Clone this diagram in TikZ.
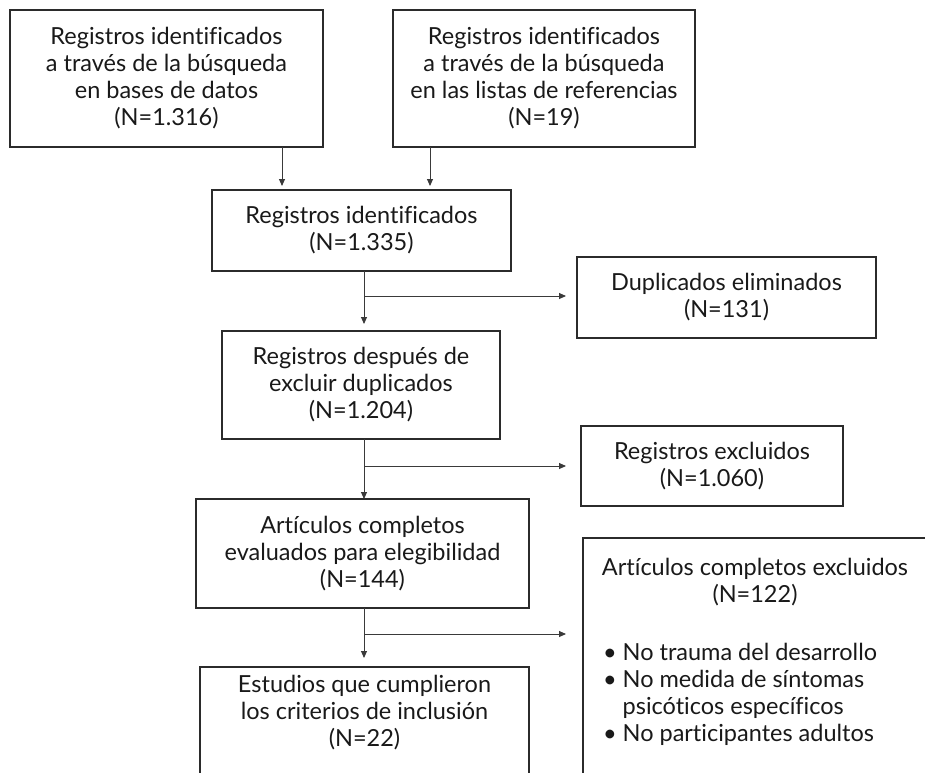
\documentclass[tikz,border=0pt]{standalone}
\usepackage{fontspec}
\setmainfont{Lato}[Ligatures=CommonOff]
\usetikzlibrary{arrows.meta,calc}
\definecolor{boxline}{HTML}{2B2B2B}
\definecolor{connline}{HTML}{3A3A3A}
\newcommand{\flowfont}{\fontsize{23.5}{27}\selectfont}
\begin{document}
\begin{tikzpicture}[x=1pt,y=-1pt,
  box/.style={draw=boxline, line width=1.3pt, inner sep=0pt, outer sep=0pt,
    anchor=north west, align=center, font=\flowfont, text=black!90},
  label/.style={inner sep=0pt, outer sep=0pt, font=\flowfont, text=black!90},
  conn/.style={draw=connline, line width=0.9pt},
  arr/.style={conn, -{Triangle[length=7pt,width=6pt]}},
]
\useasboundingbox (0,0) rectangle (925,772);
\clip (0,0) rectangle (925,772);

% main column
\node[box, minimum width=313pt, minimum height=137pt] (src1) at (10,10)
  {Registros identificados\\a través de la búsqueda\\en bases de datos\\(N=1.316)};
\node[box, minimum width=302pt, minimum height=137pt] (src2) at (393,10)
  {Registros identificados\\a través de la búsqueda\\en las listas de referencias\\(N=19)};
\node[box, minimum width=299pt, minimum height=81pt] (ident) at (212,190)
  {Registros identificados\\(N=1.335)};
\node[box, minimum width=278pt, minimum height=108pt] (dedup) at (222,331)
  {Registros después de\\excluir duplicados\\(N=1.204)};
\node[box, minimum width=333pt, minimum height=109pt] (full) at (196,499)
  {Artículos completos\\evaluados para elegibilidad\\(N=144)};
\node[box, minimum width=329pt, minimum height=160pt] (incl) at (200,667) {};
\node[label, align=center, anchor=north] (incltxt) at (364.5,675)
  {Estudios que cumplieron\\los criterios de inclusión\\(N=22)};

% exclusion column
\node[box, minimum width=299pt, minimum height=81pt] (dup) at (577,257)
  {Duplicados eliminados\\(N=131)};
\node[box, minimum width=262pt, minimum height=80pt] (rexcl) at (581,426)
  {Registros excluidos\\(N=1.060)};
\node[box, minimum width=380pt, minimum height=300pt] (aexcl) at (583,538) {};
\node[label, align=center, anchor=north] (aexcltxt) at (755,558)
  {Artículos completos excluidos\\(N=122)};
\node[label, align=left, anchor=north west] (reasons) at (603,643)
  {\textbullet\ No trauma del desarrollo\\
   \textbullet\ No medida de síntomas\\
   \hphantom{\textbullet\ }psicóticos específicos\\
   \textbullet\ No participantes adultos};

% connectors
\coordinate (colA) at (282,0);
\coordinate (colB) at (430,0);
\coordinate (trunk) at (364,0);
\coordinate (j1) at (364,296);
\coordinate (j2) at (364,466);
\coordinate (j3) at (364,634);

\draw[arr, shorten >=4pt] (src1.south -| colA) -- (ident.north -| colA);
\draw[arr, shorten >=4pt] (src2.south -| colB) -- (ident.north -| colB);

\draw[arr, shorten >=7pt] (ident.south -| trunk) -- (dedup.north -| trunk);
\draw[arr, shorten >=11pt] (j1) -- (dup.west |- j1);

\draw[arr] (dedup.south -| trunk) -- (full.north -| trunk);
\draw[arr, shorten >=15pt] (j2) -- (rexcl.west |- j2);

\draw[arr, shorten >=9pt] (full.south -| trunk) -- (incl.north -| trunk);
\draw[arr, shorten >=17pt] (j3) -- (aexcl.west |- j3);
\end{tikzpicture}
\end{document}
